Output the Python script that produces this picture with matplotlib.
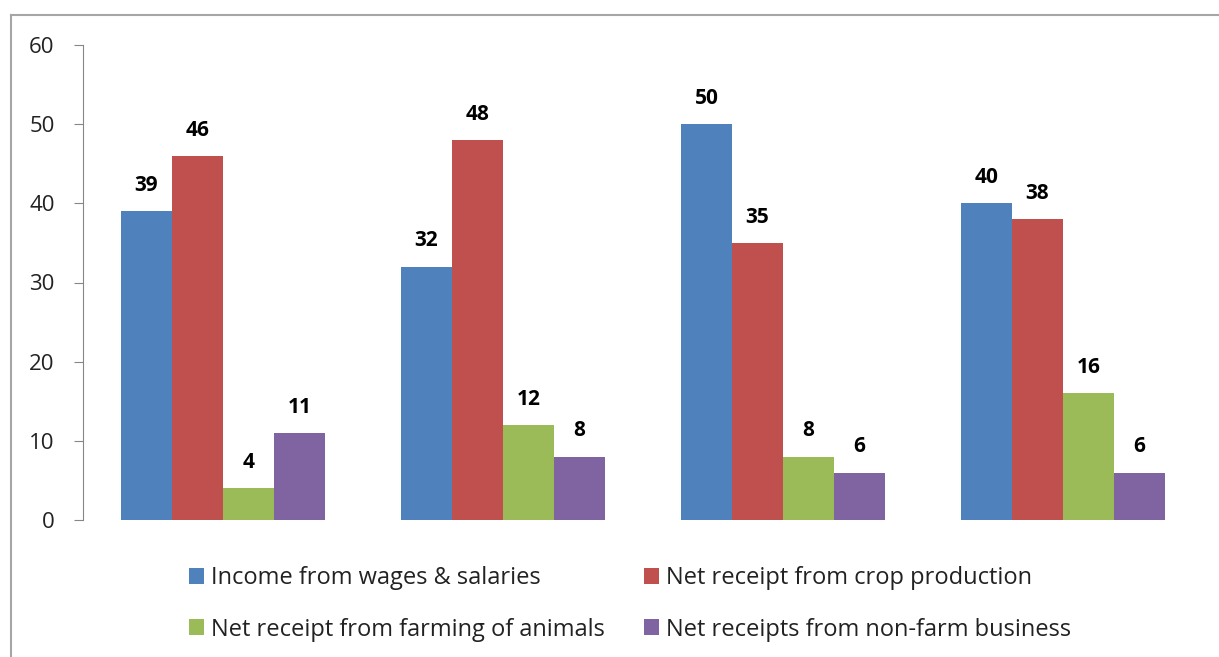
import matplotlib
matplotlib.use("Agg")
import matplotlib.pyplot as plt
import numpy as np
from matplotlib.lines import Line2D

plt.rcParams['font.family'] = ['Open Sans', 'DejaVu Sans']

categories = ["G1", "G2", "G3", "G4"]
series_names = ["Income from wages & salaries",
                "Net receipt from crop production",
                "Net receipt from farming of animals",
                "Net receipts from non-farm business"]
wages = [39, 32, 50, 40]
crop = [46, 48, 35, 38]
animals = [4, 12, 8, 16]
nonfarm = [11, 8, 6, 6]
colors = ["#4F81BD", "#C0504D", "#9BBB59", "#8064A2"]
yticks = [0, 10, 20, 30, 40, 50, 60]

W, H = 1219, 657
fig = plt.figure(figsize=(W / 100, H / 100), dpi=100)
ax = fig.add_axes([83 / W, (H - 520) / H, (1203 - 83) / W, (520 - 45) / H])

x = np.arange(len(categories))
bw = 0.182
all_series = [wages, crop, animals, nonfarm]
handles = []
for i, (vals, c) in enumerate(zip(all_series, colors)):
    off = (i - 1.5) * bw
    bars = ax.bar(x + off, vals, width=bw, color=c, edgecolor='none')
    for xi, v in zip(x + off, vals):
        ax.annotate(str(v), (xi, v), xytext=(0, 11), textcoords='offset points',
                    ha='center', va='bottom', fontsize=15, fontweight='bold', color='black')
    handles.append(bars)

ax.set_xlim(-0.5, 3.5)
ax.set_ylim(0, 60)
ax.set_yticks(yticks)
ax.set_yticklabels([str(t) for t in yticks], fontsize=16)
ax.set_xticks([])
for s in ['top', 'right', 'bottom']:
    ax.spines[s].set_visible(False)
ax.spines['left'].set_color('#868686')
ax.tick_params(axis='y', length=6.5, color='#868686', pad=14, labelcolor='#222222')

# legend order: row 1 = wages, crop; row 2 = animals, non-farm (column-major fill)
order = [0, 2, 1, 3]
leg = fig.legend([handles[k] for k in order], [series_names[k] for k in order],
                 ncol=2, loc='center',
                 bbox_to_anchor=(630 / W, 1 - 604 / H), frameon=False,
                 fontsize=17, handlelength=0.64, handleheight=0.64,
                 handletextpad=0.3, columnspacing=1.65, labelspacing=1.15,
                 labelcolor='#222222')

# outer border (top and left only)
fig.add_artist(Line2D([11 / W, 1], [1 - 15 / H, 1 - 15 / H], color='#A6A6A6', lw=1.5,
                      transform=fig.transFigure))
fig.add_artist(Line2D([11 / W, 11 / W], [0, 1 - 15 / H], color='#A6A6A6', lw=1.5,
                      transform=fig.transFigure))

fig.savefig("out.png", dpi=100, facecolor='white')
